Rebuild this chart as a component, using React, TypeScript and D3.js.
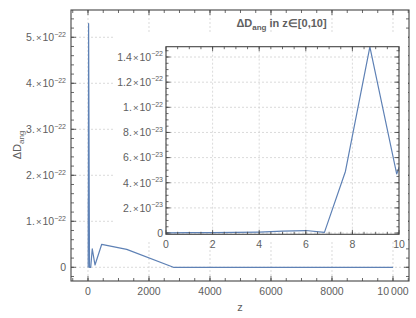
import React from "react";
import * as d3 from "d3";

// ---- data ----
const zValues = [0, 1, 2, 3, 4, 5, 6, 6.8, 7.7, 8.75, 9.9, 10.2, 20, 50, 90, 140, 230, 450, 1270, 2800, 10000];
const dAng = [
  0.02e-23, 0.03e-23, 0.04e-23, 0.05e-23, 0.08e-23, 0.15e-23, 0.2e-23, 0.05e-23, 4.9e-23, 14.8e-23, 4.7e-23,
  6.2e-23, 5.3e-22, 0, 0, 0.4e-22, 0.05e-22, 0.5e-22, 0.39e-22, 0, 0,
];

const mainXTicks = [0, 2000, 4000, 6000, 8000, 10000];
const mainXTickLabels = ["0", "2000", "4000", "6000", "8000", "10\u2009000"];
const mainYTicks = [0, 1e-22, 2e-22, 3e-22, 4e-22, 5e-22];
const mainYMantissa = ["0", "1.", "2.", "3.", "4.", "5."];
const mainYExp = ["", "−22", "−22", "−22", "−22", "−22"];

const insetXTicks = [0, 2, 4, 6, 8, 10];
const insetXTickLabels = ["0", "2", "4", "6", "8", "10"];
const insetYTicks = [0, 2e-23, 4e-23, 6e-23, 8e-23, 1e-22, 1.2e-22, 1.4e-22];
const insetYMantissa = ["0", "2.", "4.", "6.", "8.", "1.", "1.2", "1.4"];
const insetYExp = ["", "−23", "−23", "−23", "−23", "−22", "−22", "−22"];

const FONT = "'Liberation Sans', Arial, sans-serif";
const LINE = "#5E81B5";
const FRAME = "#444";
const LABEL = "#606060";
const GRID = "#d0d0d0";

function range(a: number, b: number, s: number) {
  const out: number[] = [];
  const n = Math.round((b - a) / s);
  for (let i = 0; i <= n; i++) out.push(a + i * s);
  return out;
}

function Frame({ x0, x1, y0, y1, xs, ys, xMaj, xMin, yMaj, yMin, maj, min }: any) {
  const items: any[] = [];
  xMaj.forEach((v: number, i: number) => {
    const x = xs(v);
    items.push(<line key={"xb" + i} x1={x} x2={x} y1={y1} y2={y1 - maj} />);
    items.push(<line key={"xt" + i} x1={x} x2={x} y1={y0} y2={y0 + maj} />);
  });
  xMin.forEach((v: number, i: number) => {
    const x = xs(v);
    if (x <= x0 || x >= x1) return;
    items.push(<line key={"xbm" + i} x1={x} x2={x} y1={y1} y2={y1 - min} />);
    items.push(<line key={"xtm" + i} x1={x} x2={x} y1={y0} y2={y0 + min} />);
  });
  yMaj.forEach((v: number, i: number) => {
    const y = ys(v);
    items.push(<line key={"yl" + i} x1={x0} x2={x0 + maj} y1={y} y2={y} />);
    items.push(<line key={"yr" + i} x1={x1} x2={x1 - maj} y1={y} y2={y} />);
  });
  yMin.forEach((v: number, i: number) => {
    const y = ys(v);
    if (y <= y0 || y >= y1) return;
    items.push(<line key={"ylm" + i} x1={x0} x2={x0 + min} y1={y} y2={y} />);
    items.push(<line key={"yrm" + i} x1={x1} x2={x1 - min} y1={y} y2={y} />);
  });
  return (
    <g stroke={FRAME} strokeWidth={0.8}>
      {items}
      <rect x={x0} y={y0} width={x1 - x0} height={y1 - y0} fill="none" strokeWidth={1.1} />
    </g>
  );
}

function SciLabel({ x, y, m, e }: any) {
  return (
    <text x={x} y={y} textAnchor="end">
      {e ? (
        <>
          {m}
          <tspan dx={1} fontSize={9.5}>×</tspan>
          <tspan dx={1}>10</tspan>
          <tspan dy={-4.5} fontSize={7}>{e}</tspan>
        </>
      ) : (
        m
      )}
    </text>
  );
}

export default function App() {
  // main plot
  const L = 71, R = 409, T = 10, B = 281;
  const xs = d3.scaleLinear().domain([-557, 10525]).range([L, R]);
  const ys = d3.scaleLinear().domain([-0.298e-22, 5.593e-22]).range([B, T]);
  const pts = zValues.map((z, i) => [z, dAng[i]] as [number, number]);
  const mainLine = d3.line<[number, number]>().x((d) => xs(d[0])).y((d) => ys(d[1]))(pts) || "";

  // inset
  const iL = 166, iR = 399, iT = 46.7, iB = 234.3;
  const ixs = d3.scaleLinear().domain([0, 10]).range([iL, iR]);
  const iys = d3.scaleLinear().domain([-0.1e-23, 14.82e-23]).range([iB, iT]);
  const insetLine = d3.line<[number, number]>().x((d) => ixs(d[0])).y((d) => iys(d[1]))(pts.filter((p) => p[0] <= 20)) || "";

  return (
    <svg width={416} height={318} style={{ position: "absolute", left: 0, top: 0 }} fontFamily={FONT}>
      <rect width={416} height={318} fill="#fff" />
      {/* main grid */}
      <g stroke={GRID} strokeWidth={0.8} strokeDasharray="2,2">
        {mainXTicks.map((v, i) => (
          <line key={"gx" + i} x1={xs(v)} x2={xs(v)} y1={T} y2={B} />
        ))}
        {mainYTicks.map((v, i) => (
          <line key={"gy" + i} x1={L} x2={R} y1={ys(v)} y2={ys(v)} />
        ))}
      </g>
      <defs>
        <clipPath id="mainclip">
          <rect x={L} y={T} width={R - L} height={B - T} />
        </clipPath>
        <clipPath id="insetclip">
          <rect x={iL} y={iT} width={iR - iL} height={iB - iT} />
        </clipPath>
      </defs>
      <path d={mainLine} fill="none" stroke={LINE} strokeWidth={1.2} strokeLinejoin="round" clipPath="url(#mainclip)" />
      <Frame
        x0={L} x1={R} y0={T} y1={B} xs={xs} ys={ys}
        xMaj={mainXTicks} xMin={range(-500, 10500, 500)}
        yMaj={mainYTicks} yMin={range(-0.2e-22, 5.4e-22, 0.2e-22)}
        maj={5} min={3}
      />
      {/* main tick labels */}
      <g fill={LABEL} fontSize={10.5}>
        {mainXTicks.map((v, i) => (
          <text key={"xl" + i} x={xs(v)} y={295} textAnchor="middle">
            {mainXTickLabels[i]}
          </text>
        ))}
        {mainYTicks.map((v, i) => (
          <SciLabel key={"yl" + i} x={66} y={ys(v) + 3.8} m={mainYMantissa[i]} e={mainYExp[i]} />
        ))}
      </g>
      <text x={240} y={311} fill={LABEL} fontSize={11} textAnchor="middle">z</text>
      <text transform="translate(21,145) rotate(-90)" fill={LABEL} fontSize={11} textAnchor="middle">
        ΔD<tspan dy={3} fontSize={8}>ang</tspan>
      </text>

      {/* inset */}
      <rect x={114} y={34} width={294} height={208} fill="#fff" />
      <g stroke={GRID} strokeWidth={0.8} strokeDasharray="2,2">
        {insetXTicks.map((v, i) => (
          <line key={"igx" + i} x1={ixs(v)} x2={ixs(v)} y1={iT} y2={iB} />
        ))}
        {insetYTicks.map((v, i) => (
          <line key={"igy" + i} x1={iL} x2={iR} y1={iys(v)} y2={iys(v)} />
        ))}
      </g>
      <path d={insetLine} fill="none" stroke={LINE} strokeWidth={1.2} strokeLinejoin="round" clipPath="url(#insetclip)" />
      <Frame
        x0={iL} x1={iR} y0={iT} y1={iB} xs={ixs} ys={iys}
        xMaj={insetXTicks} xMin={range(-0.5, 10.5, 0.5)}
        yMaj={insetYTicks} yMin={range(-0.5e-23, 15e-23, 0.5e-23)}
        maj={4.5} min={2.5}
      />
      <g fill={LABEL} fontSize={10.5}>
        {insetXTicks.map((v, i) => (
          <text key={"ixl" + i} x={ixs(v)} y={248.3} textAnchor="middle">
            {insetXTickLabels[i]}
          </text>
        ))}
        {insetYTicks.map((v, i) => (
          <SciLabel key={"iyl" + i} x={163} y={iys(v) + 3.8} m={insetYMantissa[i]} e={insetYExp[i]} />
        ))}
      </g>
      <text x={281.5} y={27} fill={LABEL} fontSize={11} fontWeight="bold" textAnchor="middle">
        ΔD<tspan dy={3} fontSize={8}>ang</tspan>
        <tspan dy={-3}> in z∈[0,10]</tspan>
      </text>
    </svg>
  );
}
